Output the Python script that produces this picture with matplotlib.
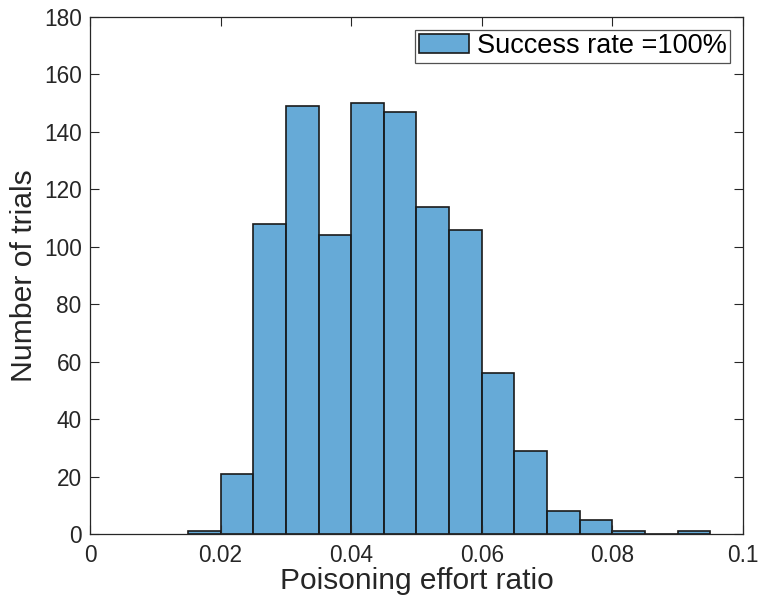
import matplotlib
matplotlib.use("Agg")
import matplotlib.pyplot as plt
import numpy as np

plt.rcParams['font.family'] = ['Liberation Sans', 'DejaVu Sans']

bin_edges = [0.015, 0.020, 0.025, 0.030, 0.035, 0.040, 0.045, 0.050, 0.055,
             0.060, 0.065, 0.070, 0.075, 0.080, 0.085, 0.090, 0.095]
counts = [1, 21, 108, 149, 104, 150, 147, 114, 106, 56, 29, 8, 5, 1, 0, 1]
x_ticks = [0, 0.02, 0.04, 0.06, 0.08, 0.1]
x_tick_labels = ['0', '0.02', '0.04', '0.06', '0.08', '0.1']
y_ticks = [0, 20, 40, 60, 80, 100, 120, 140, 160, 180]
legend_label = 'Success rate =100%'

fig = plt.figure(figsize=(7.58, 5.97), dpi=100)
ax = fig.add_axes([0.1187, 0.1055, 0.8615, 0.866])

edges = np.array(bin_edges)
ax.bar(edges[:-1], counts, width=np.diff(edges), align='edge',
       color=(0.0, 0.447, 0.741, 0.6), edgecolor='#1a1a1a', linewidth=1.2,
       label=legend_label)

ax.set_xlim(0, 0.1)
ax.set_ylim(0, 180)
ax.set_xticks(x_ticks)
ax.set_xticklabels(x_tick_labels)
ax.set_yticks(y_ticks)
ax.tick_params(direction='in', length=6.5, width=0.8, labelsize=16.3,
               top=True, right=True, colors='#262626', labelcolor='#262626')
ax.tick_params(axis='x', pad=7)
ax.tick_params(axis='y', pad=6)
for s in ax.spines.values():
    s.set_color('#262626')
    s.set_linewidth(0.9)

ax.set_xlabel('Poisoning effort ratio', fontsize=21.5, color='#262626', labelpad=0)
ax.set_ylabel('Number of trials', fontsize=21.7, color='#262626', labelpad=4)

leg = ax.legend(loc='upper right', fontsize=19.5, frameon=True, fancybox=False,
                borderpad=0.12, handlelength=1.85, handletextpad=0.3,
                borderaxespad=0.48)
leg.get_frame().set_edgecolor('#262626')
leg.get_frame().set_linewidth(0.9)

fig.savefig('out.png', dpi=100)
